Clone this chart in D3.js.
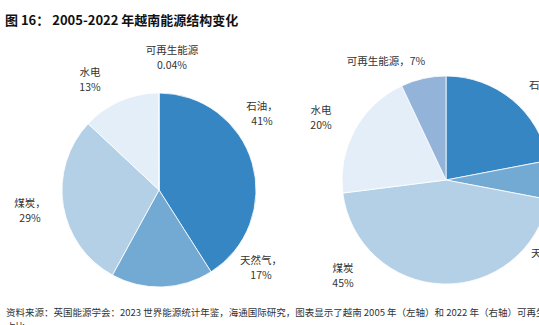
<!DOCTYPE html>
<html>
<head>
<meta charset="utf-8">
<script src="https://cdn.jsdelivr.net/npm/d3@7/dist/d3.min.js"></script>
<style>
  html, body { margin: 0; padding: 0; background: #fff; overflow: hidden; }
  svg { display: block; }
  text { font-family: "Noto Sans CJK SC", "Noto Sans", sans-serif; fill: #333; }
</style>
</head>
<body>
<svg id="chart" width="539" height="325"></svg>
<script>
// Energy sources (clockwise from 12 o'clock)
const categories = ["石油", "天然气", "煤炭", "水电", "可再生能源"];
// Share of primary energy, %
const values2005 = [41, 17, 29, 13, 0.04];
const values2022 = [22, 6, 45, 20, 7];
const labels2005 = ["41%", "17%", "29%", "13%", "0.04%"];
const labels2022 = ["22%", "6%", "45%", "20%", "7%"];

const colors = ["#3586c3", "#72aad4", "#b3d0e6", "#e3eef8", "#94b3d8"];

const svg = d3.select("#chart");

svg.append("text")
  .attr("x", 5).attr("y", 25)
  .style("font-size", "13px").style("font-weight", "bold").style("fill", "#111")
  .text("图 16：  2005-2022 年越南能源结构变化");

const color = d3.scaleOrdinal().domain(categories).range(colors);
const pie = d3.pie().sort(null).value(d => d.value);

function drawPie(cx, cy, r, values) {
  const data = categories.map((c, i) => ({ cat: c, value: values[i] }));
  const arc = d3.arc().innerRadius(0).outerRadius(r);
  const g = svg.append("g").attr("transform", `translate(${cx},${cy})`);
  g.selectAll("path")
    .data(pie(data))
    .join("path")
    .attr("d", arc)
    .attr("fill", d => color(d.data.cat))
    .attr("stroke", "#fff")
    .attr("stroke-width", 0.8);
}

drawPie(159, 190, 97, values2005);
drawPie(446, 180, 104, values2022);

// Two-line (or one-line) slice label centred on x
function label(x, y, lines, anchor) {
  const t = svg.append("text")
    .attr("text-anchor", anchor || "middle")
    .style("font-size", "10.5px");
  lines.forEach((s, i) => {
    const xi = Array.isArray(x) ? x[i] : x;
    t.append("tspan").attr("x", xi).attr("y", y + i * 15).text(s);
  });
}

// 2005
label(172, 54, [categories[4], labels2005[4]]);
label(90, 76, [categories[3], labels2005[3]]);
label(262, 110, [categories[0] + "，", labels2005[0]]);
label(30, 207, [categories[2] + "，", labels2005[2]]);
label(261, 264, [categories[1] + "，", labels2005[1]]);

// 2022
label(386, 65, [categories[4] + "，" + labels2022[4]]);
label(321, 114, [categories[3], labels2022[3]]);
label(343, 272, [categories[2], labels2022[2]]);
label([529, 541], 89, [categories[0] + "，", labels2022[0]], "start");
label([531, 545], 257, [categories[1] + "，", labels2022[1]], "start");

const foot = svg.append("text").style("font-size", "9.5px").style("fill", "#333");
foot.append("tspan").attr("x", 6).attr("y", 316)
  .text("资料来源：英国能源学会：2023 世界能源统计年鉴，海通国际研究，图表显示了越南 2005 年（左轴）和 2022 年（右轴）可再生能源");
foot.append("tspan").attr("x", 6).attr("y", 330).text("占比");
</script>
</body>
</html>
